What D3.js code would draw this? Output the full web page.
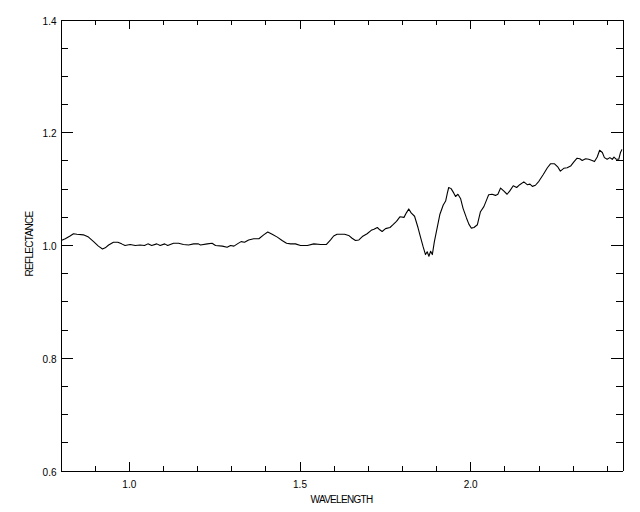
<!DOCTYPE html>
<html>
<head>
<meta charset="utf-8">
<script src="https://cdn.jsdelivr.net/npm/d3@7"></script>
<style>
  html, body { margin: 0; padding: 0; background: #fff; }
  svg { display: block; }
  text { font-family: "Liberation Sans", Arial, sans-serif; fill: #000; }
</style>
</head>
<body>
<svg id="chart" width="640" height="512"></svg>
<script>
// ---- data ----
const wavelength = [
  0.802, 0.814, 0.828, 0.838, 0.848, 0.867, 0.882, 0.897, 0.911, 0.923,
  0.931, 0.941, 0.955, 0.968, 0.979, 0.989, 1.004, 1.019, 1.033, 1.046,
  1.056, 1.067, 1.082, 1.092, 1.105, 1.114, 1.131, 1.146, 1.160, 1.175,
  1.190, 1.204, 1.210, 1.230, 1.244, 1.254, 1.274, 1.288, 1.298, 1.308,
  1.318, 1.329, 1.339, 1.351, 1.366, 1.381, 1.395, 1.407, 1.420, 1.435,
  1.449, 1.462, 1.474, 1.488, 1.503, 1.523, 1.542, 1.562, 1.579, 1.591,
  1.600, 1.610, 1.620, 1.632, 1.644, 1.654, 1.664, 1.674, 1.684, 1.698,
  1.710, 1.718, 1.728, 1.735, 1.742, 1.752, 1.765, 1.774, 1.784, 1.794,
  1.806, 1.813, 1.820, 1.827, 1.837, 1.847, 1.854, 1.862, 1.869, 1.874,
  1.879, 1.884, 1.889, 1.895, 1.903, 1.911, 1.921, 1.928, 1.933, 1.937,
  1.944, 1.952, 1.957, 1.964, 1.972, 1.979, 1.989, 1.996, 2.003, 2.011,
  2.021, 2.030, 2.040, 2.048, 2.054, 2.064, 2.074, 2.081, 2.089, 2.098,
  2.108, 2.116, 2.126, 2.136, 2.145, 2.157, 2.167, 2.175, 2.182, 2.191,
  2.201, 2.214, 2.226, 2.235, 2.247, 2.257, 2.264, 2.274, 2.284, 2.294,
  2.303, 2.313, 2.321, 2.328, 2.338, 2.347, 2.357, 2.364, 2.372, 2.379,
  2.387, 2.393, 2.401, 2.409, 2.416, 2.421, 2.428, 2.435, 2.440, 2.445
];
const reflectance = [
  1.008, 1.011, 1.016, 1.020, 1.019, 1.018, 1.014, 1.006, 0.998, 0.993,
  0.995, 1.000, 1.005, 1.005, 1.002, 0.999, 1.001, 0.999, 1.000, 0.999,
  1.002, 0.999, 1.002, 0.999, 1.002, 0.999, 1.003, 1.003, 1.001, 1.000,
  1.002, 1.002, 1.000, 1.002, 1.003, 0.999, 0.998, 0.996, 0.999, 0.998,
  1.002, 1.006, 1.005, 1.009, 1.011, 1.011, 1.018, 1.023, 1.019, 1.014,
  1.008, 1.003, 1.002, 1.002, 0.999, 0.999, 1.002, 1.001, 1.001, 1.009,
  1.016, 1.019, 1.019, 1.019, 1.017, 1.012, 1.008, 1.009, 1.015, 1.020,
  1.026, 1.028, 1.031, 1.027, 1.024, 1.029, 1.031, 1.036, 1.042, 1.050,
  1.049, 1.057, 1.064, 1.057, 1.051, 1.031, 1.015, 0.997, 0.983, 0.988,
  0.980, 0.989, 0.983, 1.006, 1.030, 1.054, 1.071, 1.078, 1.092, 1.102,
  1.100, 1.092, 1.086, 1.090, 1.082, 1.065, 1.048, 1.037, 1.030, 1.031,
  1.036, 1.059, 1.068, 1.080, 1.089, 1.090, 1.088, 1.090, 1.101, 1.096,
  1.090, 1.096, 1.105, 1.102, 1.107, 1.112, 1.107, 1.108, 1.104, 1.106,
  1.113, 1.125, 1.137, 1.144, 1.144, 1.138, 1.131, 1.136, 1.137, 1.140,
  1.147, 1.154, 1.153, 1.150, 1.153, 1.152, 1.150, 1.148, 1.156, 1.168,
  1.164, 1.155, 1.152, 1.155, 1.152, 1.156, 1.152, 1.152, 1.164, 1.170
];
const xMajorTicks = [1.0, 1.5, 2.0];
const xMinorTicks = [0.9, 1.1, 1.2, 1.3, 1.4, 1.6, 1.7, 1.8, 1.9, 2.1, 2.2, 2.3, 2.4];
const yMajorTicks = [0.6, 0.8, 1.0, 1.2, 1.4];
const yMinorTicks = [0.65, 0.7, 0.75, 0.85, 0.9, 0.95, 1.05, 1.1, 1.15, 1.25, 1.3, 1.35];
const xTitle = "WAVELENGTH";
const yTitle = "REFLECTANCE";

// ---- layout ----
const L = 60.5, R = 622.5, T = 19.5, B = 470.5;
const svg = d3.select("#chart");

const x = d3.scaleLinear().domain([0.8, 2.446]).range([L, R]);
const y = d3.scaleLinear().domain([0.6, 1.4]).range([B, T]);
const fmt = d3.format(".1f");

function styleAxis(g) {
  g.selectAll("path.domain").attr("stroke", "#000").attr("stroke-width", 1).attr("shape-rendering", "crispEdges");
  g.selectAll(".tick line").attr("stroke", "#000").attr("stroke-width", 1).attr("shape-rendering", "crispEdges");
  g.selectAll(".tick text").attr("font-size", 10).attr("fill", "#000")
    .attr("font-family", "'Liberation Sans', Arial, sans-serif");
}

// bottom axis
const gB = svg.append("g").attr("transform", `translate(0,${B})`)
  .call(d3.axisBottom(x).tickValues(xMajorTicks).tickSize(-9).tickSizeOuter(0).tickPadding(10).tickFormat(fmt));
styleAxis(gB);
const gBm = svg.append("g").attr("transform", `translate(0,${B})`)
  .call(d3.axisBottom(x).tickValues(xMinorTicks).tickSize(-5).tickSizeOuter(0).tickFormat(""));
styleAxis(gBm);

// top axis
const gT = svg.append("g").attr("transform", `translate(0,${T})`)
  .call(d3.axisTop(x).tickValues(xMajorTicks).tickSize(-9).tickSizeOuter(0).tickFormat(""));
styleAxis(gT);
const gTm = svg.append("g").attr("transform", `translate(0,${T})`)
  .call(d3.axisTop(x).tickValues(xMinorTicks).tickSize(-5).tickSizeOuter(0).tickFormat(""));
styleAxis(gTm);

// left axis
const gL = svg.append("g").attr("transform", `translate(${L},0)`)
  .call(d3.axisLeft(y).tickValues(yMajorTicks).tickSize(-12).tickSizeOuter(0).tickPadding(4).tickFormat(fmt));
styleAxis(gL);
gL.selectAll(".tick text").attr("dy", "0.45em");
const gLm = svg.append("g").attr("transform", `translate(${L},0)`)
  .call(d3.axisLeft(y).tickValues(yMinorTicks).tickSize(-7).tickSizeOuter(0).tickFormat(""));
styleAxis(gLm);

// right axis
const gR = svg.append("g").attr("transform", `translate(${R},0)`)
  .call(d3.axisRight(y).tickValues(yMajorTicks).tickSize(-12).tickSizeOuter(0).tickFormat(""));
styleAxis(gR);
const gRm = svg.append("g").attr("transform", `translate(${R},0)`)
  .call(d3.axisRight(y).tickValues(yMinorTicks).tickSize(-7).tickSizeOuter(0).tickFormat(""));
styleAxis(gRm);

// axis titles
svg.append("text")
  .attr("x", (L + R) / 2).attr("y", 502.5)
  .attr("text-anchor", "middle").attr("font-size", 10).attr("letter-spacing", "-0.7px")
  .text(xTitle);
svg.append("text")
  .attr("transform", `translate(33,244) rotate(-90)`)
  .attr("text-anchor", "middle").attr("font-size", 10).attr("letter-spacing", "-0.7px")
  .text(yTitle);

// clip + data line
svg.append("clipPath").attr("id", "plotclip")
  .append("rect").attr("x", L).attr("y", T).attr("width", R - L).attr("height", B - T);

const data = wavelength.map((w, i) => ({ w, r: reflectance[i] }));
const line = d3.line().x(d => x(d.w)).y(d => y(d.r));
svg.append("path")
  .datum(data)
  .attr("clip-path", "url(#plotclip)")
  .attr("fill", "none")
  .attr("stroke", "#000")
  .attr("stroke-width", 1.1)
  .attr("stroke-linejoin", "round")
  .attr("d", line);
</script>
</body>
</html>
